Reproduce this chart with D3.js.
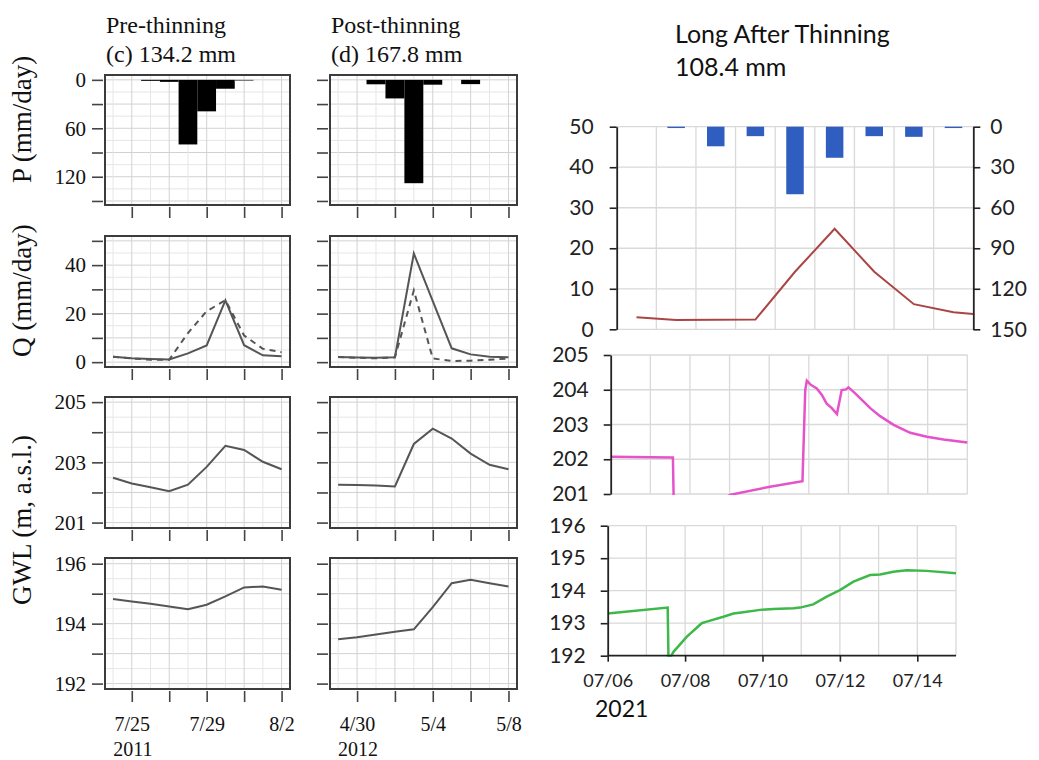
<!DOCTYPE html>
<html>
<head>
<meta charset="utf-8">
<script src="https://cdn.jsdelivr.net/npm/d3@7"></script>
<style>
  body { margin: 0; background: #fff; }
</style>
</head>
<body>
<svg id="chart" width="1039" height="760"></svg>
<script>
// ---- data: left figure (days counted from the first labelled date) ----
const panelDays = [-1, 0, 1, 2, 3, 4, 5, 6, 7, 8];
const dayTicks = [0, 2, 4, 6, 8];
const preDayLabels = ['7/25', '', '7/29', '', '8/2'];
const postDayLabels = ['4/30', '', '5/4', '', '5/8'];

const preP = [0, 0, 1, 2.5, 80, 39, 11, 0.7, 0, 0];
const postP = [0, 0, 5.5, 23, 128, 6, 0, 5.3, 0, 0];
const preQ = [2.2, 1.6, 1.3, 1.1, 3.6, 6.9, 25.5, 7.0, 2.8, 2.4];
const preQdash = [2.2, 1.5, 1.0, 1.0, 12, 21, 25.5, 11, 5.5, 4.1];
const postQ = [2.1, 1.9, 1.8, 2.0, 44.8, 25.2, 5.7, 3.2, 2.2, 2.0];
const postQdash = [2.1, 1.8, 1.6, 2.0, 29.6, 1.5, 0.5, 0.6, 1.0, 1.5];
const preGwlA = [202.49, 202.3, 202.17, 202.04, 202.26, 202.85, 203.55, 203.41, 203.02, 202.77];
const postGwlA = [202.26, 202.25, 202.23, 202.2, 203.61, 204.12, 203.79, 203.29, 202.92, 202.77];
const preGwlB = [194.82, 194.74, 194.66, 194.57, 194.48, 194.63, 194.91, 195.21, 195.24, 195.13];
const postGwlB = [193.48, 193.55, 193.64, 193.73, 193.81, 194.55, 195.35, 195.46, 195.35, 195.24];

const pTicks = [0, 30, 60, 90, 120, 150];
const pLabels = [0, 60, 120];
const qTicks = [0, 10, 20, 30, 40, 50];
const qLabels = [0, 20, 40];
const gwlATicks = [201, 202, 203, 204, 205];
const gwlALabels = [201, 203, 205];
const gwlBTicks = [192, 193, 194, 195, 196];
const gwlBLabels = [192, 194, 196];

// ---- data: right figure (days from 07/06/2021) ----
const rainDays = [0, 1, 2, 3, 4, 5, 6, 7, 8];
const rainVals = [0, 1, 14.5, 7, 50, 23, 7, 7.5, 1];
const flowDays = [0.5, 1.5, 2.5, 3.5, 4.5, 5.5, 6.5, 7.5, 8.5, 9];
const flowVals = [3.0, 2.3, 2.35, 2.4, 14.2, 24.8, 14.2, 6.2, 4.2, 3.8];
const flowTicks = [0, 10, 20, 30, 40, 50];
const rainTicks = [0, 30, 60, 90, 120, 150];

const pinkDays = [0, 1.54, 1.57, 1.60, 2.3, 3.03, 4.02, 4.84, 4.91, 4.95, 5.05, 5.2, 5.33, 5.45, 5.58, 5.71, 5.83, 5.94, 6.0, 6.13, 6.3, 6.55, 6.8, 7.14, 7.56, 7.98, 8.4, 9.0];
const pinkVals = [202.07, 202.05, 202.05, 200.2, 200.55, 200.98, 201.21, 201.37, 203.99, 204.26, 204.14, 204.04, 203.85, 203.6, 203.47, 203.3, 203.99, 204.01, 204.07, 203.94, 203.75, 203.47, 203.24, 202.99, 202.76, 202.65, 202.57, 202.48];
const pinkTicks = [201, 202, 203, 204, 205];

const greenDays = [0, 1.55, 1.57, 1.62, 1.70, 2.04, 2.43, 2.56, 2.99, 3.25, 3.5, 3.94, 4.28, 4.8, 4.97, 5.31, 5.66, 6.0, 6.35, 6.78, 7.04, 7.38, 7.73, 8.24, 9.0];
const greenVals = [193.30, 193.48, 191.95, 191.95, 192.12, 192.58, 193.0, 193.05, 193.2, 193.3, 193.34, 193.41, 193.44, 193.46, 193.48, 193.58, 193.82, 194.02, 194.28, 194.48, 194.5, 194.58, 194.63, 194.61, 194.54];
const greenTicks = [192, 193, 194, 195, 196];
const dateTicks = [0, 2, 4, 6, 8];
const dateLabels = ['07/06', '07/08', '07/10', '07/12', '07/14'];

const svg = d3.select('#chart');
const serif = "'Liberation Serif', 'Times New Roman', serif";
const sans = "Lato, 'Open Sans', sans-serif";

// ================= left figure =================
const rows = [
  { key: 'P', y0: 75, y1: 205, domain: [-6, 155], flip: true, ticks: pTicks, labels: pLabels, step: 15 },
  { key: 'Q', y0: 236, y1: 367, domain: [-2, 52], ticks: qTicks, labels: qLabels, step: 5 },
  { key: 'A', y0: 397, y1: 528, domain: [200.82, 205.17], ticks: gwlATicks, labels: gwlALabels, step: 0.5 },
  { key: 'B', y0: 558, y1: 689, domain: [191.82, 196.19], ticks: gwlBTicks, labels: gwlBLabels, step: 0.5 }
];

const cols = [
  { x0: 105, x1: 290, title: 'Pre-thinning', sub: '(c) 134.2 mm', dayLabels: preDayLabels, year: '2011',
    P: preP, Q: preQ, Qd: preQdash, A: preGwlA, B: preGwlB, yLabels: true },
  { x0: 330, x1: 517, title: 'Post-thinning', sub: '(d) 167.8 mm', dayLabels: postDayLabels, year: '2012',
    P: postP, Q: postQ, Qd: postQdash, A: postGwlA, B: postGwlB, yLabels: false }
];

cols.forEach(col => {
  const x = d3.scaleLinear().domain([-1.43, 8.45]).range([col.x0, col.x1]);

  svg.append('text').attr('x', col.x0 + 1).attr('y', 33)
    .attr('font-family', serif).attr('font-size', 24).attr('fill', '#111').text(col.title);
  svg.append('text').attr('x', col.x0 + 1).attr('y', 62)
    .attr('font-family', serif).attr('font-size', 24).attr('fill', '#111').text(col.sub);

  rows.forEach((row, ri) => {
    const y = d3.scaleLinear().domain(row.domain)
      .range(row.flip ? [row.y0, row.y1] : [row.y1, row.y0]);
    const g = svg.append('g');

    // grid
    const hg = d3.range(Math.ceil(row.domain[0] / row.step) * row.step, row.domain[1], row.step);
    g.selectAll('.hg').data(hg).join('line')
      .attr('x1', col.x0).attr('x2', col.x1)
      .attr('y1', d => y(d)).attr('y2', d => y(d))
      .attr('stroke', d => row.ticks.some(t => Math.abs(t - d) < 1e-6) ? '#d2d2d2' : '#e6e6e6')
      .attr('stroke-width', 1);
    g.selectAll('.vg').data(panelDays).join('line')
      .attr('x1', d => x(d)).attr('x2', d => x(d))
      .attr('y1', row.y0).attr('y2', row.y1)
      .attr('stroke', d => dayTicks.includes(d) ? '#d2d2d2' : '#e6e6e6')
      .attr('stroke-width', 1);

    if (row.key === 'P') {
      g.selectAll('.bar').data(panelDays.map((d, i) => ({ d, v: col.P[i] })).filter(o => o.v > 0))
        .join('rect')
        .attr('x', o => x(o.d - 0.5))
        .attr('width', o => x(o.d + 0.5) - x(o.d - 0.5))
        .attr('y', y(0))
        .attr('height', o => Math.max(1, y(o.v) - y(0)))
        .attr('fill', o => o.v < 1 ? '#666' : '#000');
    } else {
      const line = d3.line().x((v, i) => x(panelDays[i])).y(v => y(v));
      if (row.key === 'Q') {
        g.append('path').attr('d', line(col.Qd)).attr('fill', 'none')
          .attr('stroke', '#555').attr('stroke-width', 2).attr('stroke-dasharray', '6,5');
      }
      g.append('path').attr('d', line(col[row.key])).attr('fill', 'none')
        .attr('stroke', '#555').attr('stroke-width', 2);
    }

    // frame
    g.append('rect').attr('x', col.x0).attr('y', row.y0)
      .attr('width', col.x1 - col.x0).attr('height', row.y1 - row.y0)
      .attr('fill', 'none').attr('stroke', '#3c3c3c').attr('stroke-width', 2);

    // y axis
    const ya = d3.axisLeft(y).tickValues(row.ticks).tickSize(11).tickPadding(6)
      .tickFormat(d => col.yLabels && row.labels.includes(d) ? d : '');
    const yg = g.append('g').attr('transform', `translate(${col.x0 - 2},0)`).call(ya);
    yg.select('.domain').remove();
    yg.selectAll('line').attr('stroke', '#444').attr('stroke-width', 1.6);
    yg.selectAll('text').attr('font-family', serif).attr('font-size', 21).attr('fill', '#111');

    // x axis ticks
    const last = ri === rows.length - 1;
    const xa = d3.axisBottom(x).tickValues(dayTicks).tickSize(11).tickPadding(15)
      .tickFormat((d, i) => last ? col.dayLabels[i] : '');
    const xg = g.append('g').attr('transform', `translate(0,${row.y1 + 2})`).call(xa);
    xg.select('.domain').remove();
    xg.selectAll('line').attr('stroke', '#444').attr('stroke-width', 1.6);
    xg.selectAll('text').attr('font-family', serif).attr('font-size', 20).attr('fill', '#111');

    if (last) {
      svg.append('text').attr('x', x(0) + 1).attr('y', 756).attr('text-anchor', 'middle')
        .attr('font-family', serif).attr('font-size', 20).attr('fill', '#111').text(col.year);
    }
  });
});

// y titles
[['P (mm/day)', 183], ['Q (mm/day)', 357], ['GWL (m, a.s.l.)', 605]].forEach(([t, y0]) => {
  svg.append('text').attr('transform', `translate(31,${y0}) rotate(-90)`)
    .attr('font-family', serif).attr('font-size', 27).attr('fill', '#111').text(t);
});

// ================= right figure =================
const intFmt = d3.format('d');
function styleAxis(sel, size) {
  sel.select('.domain').attr('stroke', '#222').attr('stroke-width', 1.8);
  sel.selectAll('.tick line').attr('stroke', '#222').attr('stroke-width', 1.6);
  sel.selectAll('text').attr('font-family', sans).attr('font-size', size).attr('fill', '#222');
}

svg.append('text').attr('x', 675).attr('y', 43).attr('font-family', sans)
  .attr('font-size', 25).attr('fill', '#111').text('Long After Thinning');
svg.append('text').attr('x', 675).attr('y', 76).attr('font-family', sans)
  .attr('font-size', 25).attr('fill', '#111').text('108.4 mm');

// top: rain bars + flow line
const xT = d3.scaleLinear().domain([0, 9]).range([616.7, 973.3]);
const yTL = d3.scaleLinear().domain([0, 50]).range([329.3, 126.7]);
const yTR = d3.scaleLinear().domain([0, 150]).range([126.7, 329.3]);
const topG = svg.append('g');
topG.selectAll('.hg').data(flowTicks).join('line')
  .attr('x1', xT(0)).attr('x2', xT(9)).attr('y1', d => yTL(d)).attr('y2', d => yTL(d))
  .attr('stroke', '#d9d9d9').attr('stroke-width', 1.3);
topG.selectAll('.vg').data(d3.range(1, 9)).join('line')
  .attr('x1', d => xT(d)).attr('x2', d => xT(d)).attr('y1', yTL(50)).attr('y2', yTL(0))
  .attr('stroke', '#d9d9d9').attr('stroke-width', 1.3);
const bw = 17.5;
topG.selectAll('.bar').data(rainDays.map((d, i) => ({ d, v: rainVals[i] })).filter(o => o.v > 0))
  .join('rect')
  .attr('x', o => xT(o.d + 0.5) - bw / 2).attr('width', bw)
  .attr('y', yTR(0)).attr('height', o => yTR(o.v) - yTR(0))
  .attr('fill', '#2f5dc0');
topG.append('path')
  .attr('d', d3.line().x((d, i) => xT(d)).y((d, i) => yTL(flowVals[i]))(flowDays))
  .attr('fill', 'none').attr('stroke', '#ab4545').attr('stroke-width', 2);
const tl = topG.append('g').attr('transform', `translate(${xT(0)},0)`)
  .call(d3.axisLeft(yTL).tickValues(flowTicks).tickFormat(intFmt).tickSize(7).tickSizeOuter(0).tickPadding(16));
styleAxis(tl, 21);
const tr = topG.append('g').attr('transform', `translate(${xT(9)},0)`)
  .call(d3.axisRight(yTR).tickValues(rainTicks).tickFormat(intFmt).tickSize(7).tickSizeOuter(0).tickPadding(10));
styleAxis(tr, 21);

// middle: pink groundwater level
const xM = d3.scaleLinear().domain([0, 9]).range([610.7, 967.3]);
const yM = d3.scaleLinear().domain([201, 205]).range([494, 355]);
const midG = svg.append('g');
midG.append('clipPath').attr('id', 'clipM').append('rect')
  .attr('x', xM(0)).attr('y', yM(205) - 2).attr('width', xM(9) - xM(0) + 2).attr('height', yM(201) - yM(205) + 3);
midG.selectAll('.hg').data(pinkTicks).join('line')
  .attr('x1', xM(0)).attr('x2', xM(9)).attr('y1', d => yM(d)).attr('y2', d => yM(d))
  .attr('stroke', '#d9d9d9').attr('stroke-width', 1.3);
midG.selectAll('.vg').data(d3.range(1, 10)).join('line')
  .attr('x1', d => xM(d)).attr('x2', d => xM(d)).attr('y1', yM(205)).attr('y2', yM(201))
  .attr('stroke', '#d9d9d9').attr('stroke-width', 1.3);
midG.append('path').attr('clip-path', 'url(#clipM)')
  .attr('d', d3.line().x(d => xM(d)).y((d, i) => yM(pinkVals[i]))(pinkDays))
  .attr('fill', 'none').attr('stroke', '#e652c9').attr('stroke-width', 2.5);
const ml = midG.append('g').attr('transform', `translate(${xM(0)},0)`)
  .call(d3.axisLeft(yM).tickValues(pinkTicks).tickFormat(intFmt).tickSize(7).tickSizeOuter(0).tickPadding(15));
styleAxis(ml, 21);

// bottom: green groundwater level
const xB = d3.scaleLinear().domain([0, 9]).range([607.7, 956]);
const yB = d3.scaleLinear().domain([192, 196]).range([655.7, 525.7]);
const botG = svg.append('g');
botG.append('clipPath').attr('id', 'clipB').append('rect')
  .attr('x', xB(0)).attr('y', yB(196) - 2).attr('width', xB(9) - xB(0) + 2).attr('height', yB(192) - yB(196) + 3);
botG.selectAll('.hg').data(greenTicks.slice(1)).join('line')
  .attr('x1', xB(0)).attr('x2', xB(9)).attr('y1', d => yB(d)).attr('y2', d => yB(d))
  .attr('stroke', '#d9d9d9').attr('stroke-width', 1.3);
botG.selectAll('.vg').data(d3.range(1, 10)).join('line')
  .attr('x1', d => xB(d)).attr('x2', d => xB(d)).attr('y1', yB(196)).attr('y2', yB(192))
  .attr('stroke', '#d9d9d9').attr('stroke-width', 1.3);
botG.append('path').attr('clip-path', 'url(#clipB)')
  .attr('d', d3.line().x(d => xB(d)).y((d, i) => yB(greenVals[i]))(greenDays))
  .attr('fill', 'none').attr('stroke', '#3fb84a').attr('stroke-width', 2.5);
const bl = botG.append('g').attr('transform', `translate(${xB(0)},0)`)
  .call(d3.axisLeft(yB).tickValues(greenTicks).tickFormat(intFmt).tickSize(7).tickSizeOuter(0).tickPadding(15));
styleAxis(bl, 21);
const bb = botG.append('g').attr('transform', `translate(0,${yB(192)})`)
  .call(d3.axisBottom(xB).tickValues(dateTicks).tickSize(6).tickSizeOuter(0).tickPadding(13)
    .tickFormat((d, i) => dateLabels[i]));
styleAxis(bb, 18);
bb.select('.domain').attr('d', `M${xB(0)},0H${xB(9)}`);

svg.append('text').attr('x', 595).attr('y', 717).attr('font-family', sans)
  .attr('font-size', 23).attr('fill', '#111').text('2021');
</script>
</body>
</html>
